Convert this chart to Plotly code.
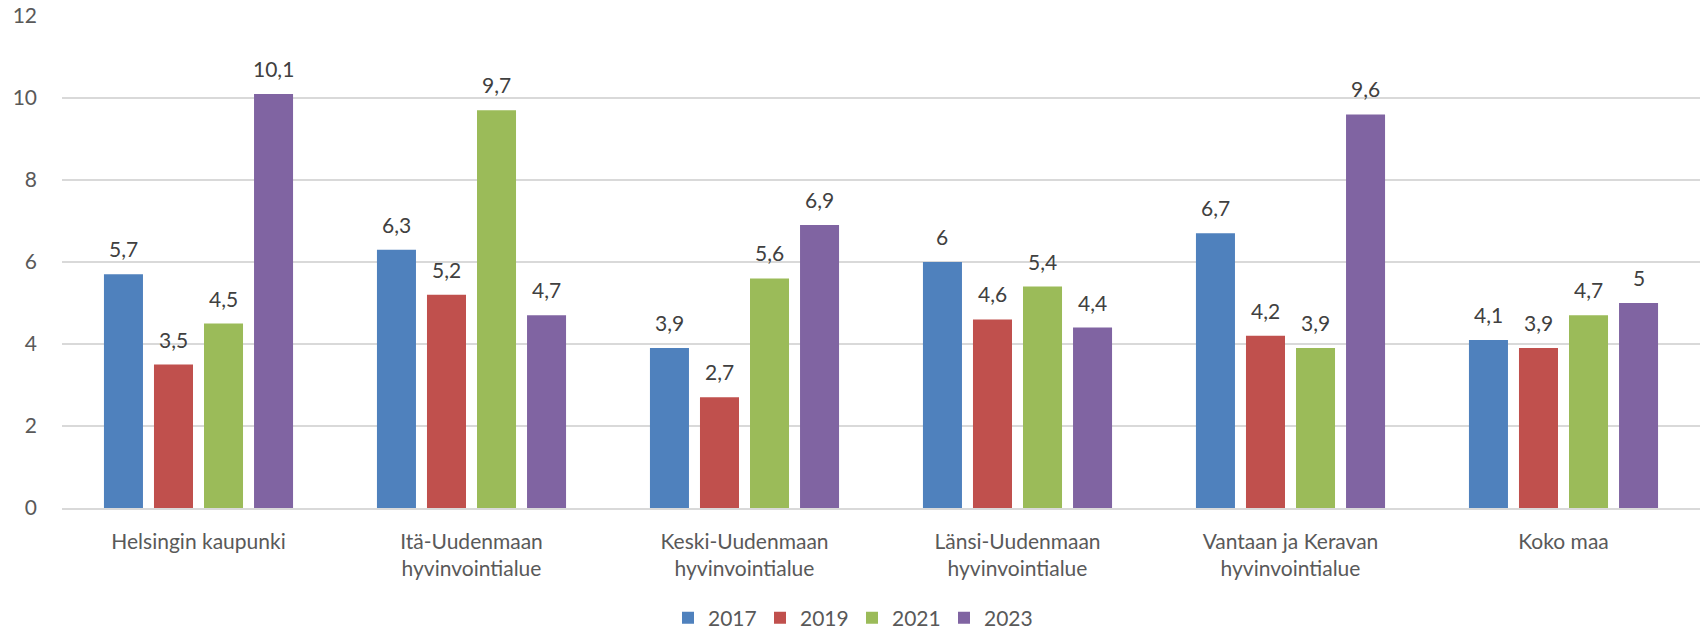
import plotly.graph_objects as go

categories = ["Helsingin kaupunki", "Itä-Uudenmaan<br>hyvinvointialue", "Keski-Uudenmaan<br>hyvinvointialue",
              "Länsi-Uudenmaan<br>hyvinvointialue", "Vantaan ja Keravan<br>hyvinvointialue", "Koko maa"]
years = ["2017", "2019", "2021", "2023"]
v2017 = [5.7, 6.3, 3.9, 6.0, 6.7, 4.1]
v2019 = [3.5, 5.2, 2.7, 4.6, 4.2, 3.9]
v2021 = [4.5, 9.7, 5.6, 5.4, 3.9, 4.7]
v2023 = [10.1, 4.7, 6.9, 4.4, 9.6, 5.0]
series = [v2017, v2019, v2021, v2023]
colors = ["#4F81BD", "#C0504D", "#9BBB59", "#8064A2"]
yticks = [0, 2, 4, 6, 8, 10, 12]

FONT = "Lato, Open Sans, sans-serif"
FS = 21
W, H = 1704, 632
ML, MR, MT, MB = 62, 4, 16, 124
BARGAP, GROUPGAP = 0.267, 0.22

fig = go.Figure()
for name, vals, c in zip(years, series, colors):
    fig.add_trace(go.Bar(
        x=categories, y=vals, name=name,
        marker=dict(color=c, line=dict(width=0)),
        cliponaxis=False,
    ))

# data labels as annotations, offset to each bar's slot within its group
cat_px = (W - ML - MR) / len(categories)
slot_px = cat_px * (1 - BARGAP) / len(series)
annotations = []
for i, vals in enumerate(series):
    for cat, v in zip(categories, vals):
        annotations.append(dict(
            x=cat, y=v, xref="x", yref="y", text=f"{v:g}".replace(".", ","),
            showarrow=False, yanchor="bottom", xanchor="center",
            xshift=(i - (len(series) - 1) / 2) * slot_px, yshift=11,
            font=dict(size=FS, color="#404040", family=FONT),
        ))

fig.update_layout(
    width=W, height=H,
    margin=dict(l=ML, r=MR, t=MT, b=MB, autoexpand=False),
    paper_bgcolor="white", plot_bgcolor="white",
    barmode="group", bargap=BARGAP, bargroupgap=GROUPGAP,
    separators=", ",
    font=dict(family=FONT, size=FS, color="#595959"),
    showlegend=True,
    annotations=annotations,
    legend=dict(orientation="h", x=0.5, xanchor="center", xref="container",
                y=-0.2236, yanchor="middle", yref="paper",
                font=dict(size=FS, color="#595959"), itemwidth=30, traceorder="normal",
                entrywidth=47),
    xaxis=dict(showgrid=False, showline=True, linecolor="#D9D9D9", linewidth=1.5, automargin=False,
               ticks="", ticklabelstandoff=14, tickfont=dict(size=FS, color="#595959")),
    yaxis=dict(range=[0, 12], tickvals=yticks, showgrid=True, gridcolor="#D9D9D9", gridwidth=1.5,
               zeroline=False, showline=False, ticks="", ticklabelstandoff=24, automargin=False,
               tickfont=dict(size=FS, color="#595959")),
)

fig.write_html("out.html", config={"displayModeBar": False},
               post_script="document.body.style.margin='0';")
